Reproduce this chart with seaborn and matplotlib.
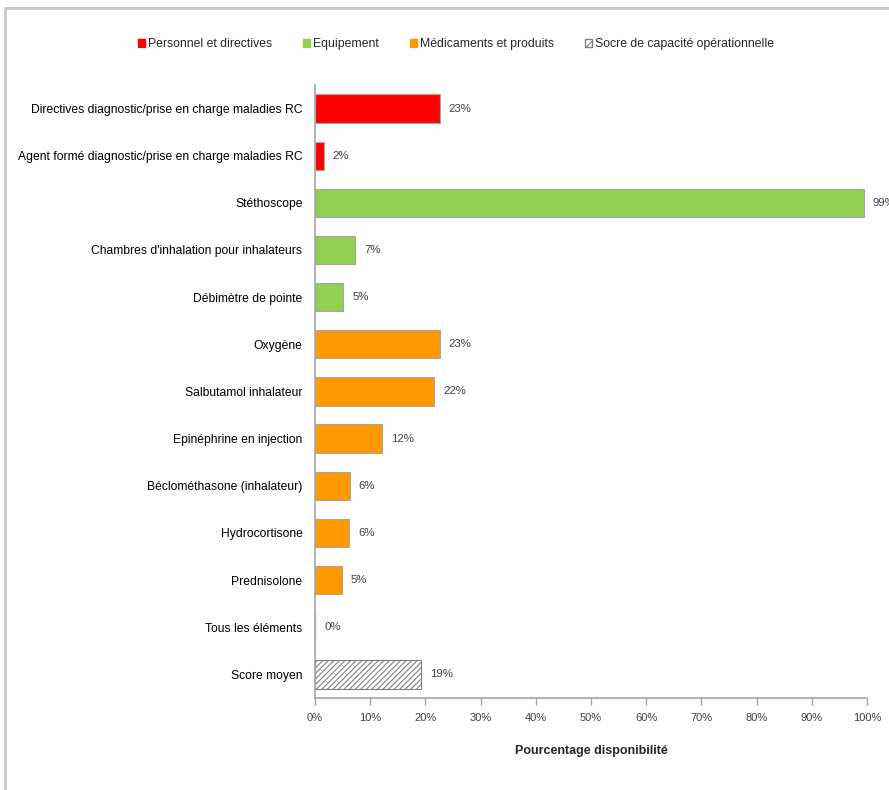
import matplotlib
matplotlib.use("Agg")
import matplotlib.pyplot as plt
from matplotlib import font_manager
from matplotlib.patches import Patch, Rectangle
import pandas as pd
import seaborn as sns

# data
items = [
    "Directives diagnostic/prise en charge maladies RC",
    "Agent formé diagnostic/prise en charge maladies RC",
    "Stéthoscope",
    "Chambres d'inhalation pour inhalateurs",
    "Débimètre de pointe",
    "Oxygène",
    "Salbutamol inhalateur",
    "Epinéphrine en injection",
    "Béclométhasone (inhalateur)",
    "Hydrocortisone",
    "Prednisolone",
    "Tous les éléments",
    "Score moyen",
]
values = [22.6, 1.6, 99.4, 7.3, 5.1, 22.6, 21.6, 12.1, 6.3, 6.2, 4.9, 0.0, 19.2]
groups = [
    "Personnel et directives", "Personnel et directives",
    "Equipement", "Equipement", "Equipement",
    "Médicaments et produits", "Médicaments et produits", "Médicaments et produits",
    "Médicaments et produits", "Médicaments et produits", "Médicaments et produits",
    "Médicaments et produits",
    "Socre de capacité opérationnelle",
]
palette = {
    "Personnel et directives": "#FF0000",
    "Equipement": "#92D050",
    "Médicaments et produits": "#FF9900",
    "Socre de capacité opérationnelle": "#FFFFFF",
}
xticks = list(range(0, 101, 10))

sns.set_theme(style="white")
installed = {f.name for f in font_manager.fontManager.ttflist}
font = "Liberation Sans Narrow" if "Liberation Sans Narrow" in installed else "Liberation Sans"
plt.rcParams["font.family"] = [font, "DejaVu Sans"]
plt.rcParams["hatch.color"] = "#7F7F7F"
plt.rcParams["hatch.linewidth"] = 0.8

df = pd.DataFrame({"item": items, "value": values, "group": groups})

fig = plt.figure(figsize=(8.89, 7.90), dpi=100)
ax = fig.add_axes([0.3543, 0.1165, 0.6210, 0.7760])

sns.barplot(data=df, x="value", y="item", hue="group", palette=palette,
            dodge=False, orient="h", width=0.6, saturation=1,
            edgecolor="#A6A6A6", linewidth=0.8, legend=False, ax=ax)

# hatch on the average score bar
for patch in ax.patches:
    y_mid = patch.get_y() + patch.get_height() / 2
    if round(y_mid) == len(items) - 1 and patch.get_width() > 0:
        patch.set_hatch("//////")
        patch.set_edgecolor("#7F7F7F")

for i, v in enumerate(values):
    ax.annotate(f"{v:.0f}%", xy=(v, i), xytext=(6.5, 0), textcoords="offset points",
                va="center", ha="left", fontsize=8.2, color="#404040",
                annotation_clip=False)

ax.set_xlim(0, 100)
ax.set_ylim(len(items) - 0.5, -0.5)
ax.set_xticks(xticks)
ax.set_xticklabels([f"{t}%" for t in xticks], fontsize=8, color="#404040")
ax.tick_params(axis="x", direction="out", length=5, width=1, color="#A6A6A6",
               bottom=True, pad=6)
ax.tick_params(axis="y", length=0, labelsize=8.7, pad=9)
for lab in ax.get_yticklabels():
    lab.set_color("black")
ax.set_ylabel("")
ax.set_xlabel("Pourcentage disponibilité", fontsize=9, fontweight="bold",
              labelpad=16)
for side in ["top", "right"]:
    ax.spines[side].set_visible(False)
for side in ["left", "bottom"]:
    ax.spines[side].set_color("#A6A6A6")
    ax.spines[side].set_linewidth(1.2)

handles = [
    Patch(facecolor=palette[g], edgecolor="#7F7F7F" if g.startswith("Socre") else palette[g],
          hatch="////" if g.startswith("Socre") else None, label=g)
    for g in palette
]
fig.legend(handles=handles, loc="center", bbox_to_anchor=(0.513, 0.944), ncol=4,
           frameon=False, fontsize=8.8, handlelength=0.6, handleheight=0.6,
           handletextpad=0.25, columnspacing=2.5)

# outer frame of the exported chart
fig.patches.append(Rectangle((0.006, -0.05), 1.1, 1.04, transform=fig.transFigure,
                             fill=False, edgecolor="#C8C8C8", linewidth=2, zorder=0))

fig.savefig("out.png", dpi=100)
